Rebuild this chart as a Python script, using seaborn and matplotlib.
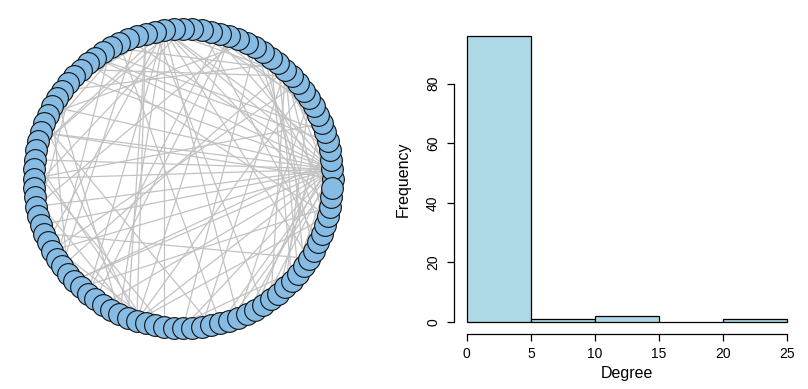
import numpy as np
import pandas as pd
import matplotlib
matplotlib.use("Agg")
import matplotlib.pyplot as plt
import seaborn as sns

# Network: 100 vertices on a circle, edges of a preferential-attachment style tree
n_nodes = 100

hub_edges = [
    (1, 8), (1, 13), (1, 22), (1, 27), (1, 31), (1, 35), (1, 38), (1, 42),
    (1, 45), (1, 48), (1, 50), (1, 53), (1, 55), (1, 58), (1, 62), (1, 66),
    (1, 70), (1, 75), (1, 79), (1, 84), (1, 88), (1, 93),
    (27, 3), (27, 12), (27, 40), (27, 47), (27, 57), (27, 64), (27, 68),
    (27, 73), (27, 81), (27, 91), (27, 97),
    (13, 5), (13, 18), (13, 25), (13, 33), (13, 60), (13, 77), (13, 85),
    (13, 90), (13, 95), (13, 99),
    (70, 10), (70, 20), (70, 29), (70, 44), (70, 52), (70, 96),
]

leaf_edges = [
    (45, 0), (62, 2), (35, 4), (50, 6), (22, 7), (81, 9), (58, 11), (40, 14),
    (88, 15), (3, 16), (75, 17), (53, 19), (64, 21), (93, 23), (8, 24),
    (47, 26), (84, 28), (60, 30), (79, 32), (5, 34), (96, 36), (12, 37),
    (45, 39), (68, 41), (18, 43), (31, 46), (73, 49), (25, 51), (38, 54),
    (91, 56), (33, 59), (42, 61), (97, 63), (20, 65), (55, 67), (29, 69),
    (48, 71), (57, 72), (90, 74), (66, 76), (44, 78), (0, 80), (2, 82),
    (4, 83), (6, 86), (9, 87), (14, 89), (16, 92), (17, 94), (19, 98),
]

degree_bins = [0, 5, 10, 15, 20, 25]

node_color = "#86bbe4"
edge_color = "#c2c2c2"
bar_color = "lightblue"

sns.set_style("white")
plt.rcParams["font.family"] = ["Liberation Sans", "DejaVu Sans"]
plt.rcParams["text.color"] = "black"
plt.rcParams["axes.labelcolor"] = "black"
plt.rcParams["xtick.color"] = "black"
plt.rcParams["ytick.color"] = "black"

edges = hub_edges + leaf_edges
degrees = np.bincount(np.array(edges).ravel(), minlength = n_nodes)
deg_df = pd.DataFrame({"Degree": degrees})

# circle layout, counter-clockwise from the right
angle = 2 * np.pi * np.arange(n_nodes) / n_nodes
node_x = np.cos(angle)
node_y = np.sin(angle)

fig = plt.figure(figsize = (8.08, 3.89), dpi = 100)

# left: network
ax_net = fig.add_axes([0, 0, 366 / 808, 1])
for s, t in edges:
    ax_net.plot([node_x[s], node_x[t]], [node_y[s], node_y[t]],
                color = edge_color, lw = 0.9, zorder = 1)
sns.scatterplot(x = node_x, y = node_y, s = 245, color = node_color,
                edgecolor = "#111111", linewidth = 0.8, ax = ax_net,
                zorder = 3, legend = False)
ax_net.set_xlim(-183 / 149.5, 183 / 149.5)
ax_net.set_ylim(-(389 - 178.5) / 149.5, 178.5 / 149.5)
ax_net.axis("off")

# right: degree histogram
ax_h = fig.add_axes([454 / 808, 55.5 / 389, 346 / 808, 309 / 389])
sns.histplot(data = deg_df, x = "Degree", bins = degree_bins, color = bar_color,
             edgecolor = "black", linewidth = 0.9, alpha = 1, ax = ax_h)
ax_h.set_xlim(-1, 26)
ax_h.set_ylim(-3.84, 99.84)
ax_h.set_xticks(degree_bins)
ax_h.set_yticks([0, 20, 40, 60, 80])
ax_h.spines["top"].set_visible(False)
ax_h.spines["right"].set_visible(False)
ax_h.spines["left"].set_bounds(0, 80)
ax_h.spines["bottom"].set_bounds(0, 25)
for side in ["left", "bottom"]:
    ax_h.spines[side].set_color("black")
    ax_h.spines[side].set_linewidth(0.9)
ax_h.tick_params(axis = "both", length = 5, width = 0.9, color = "black",
                 labelcolor = "black", labelsize = 10, pad = 5,
                 left = True, bottom = True)
plt.setp(ax_h.get_yticklabels(), rotation = 90, va = "center")
ax_h.set_xlabel("Degree", fontsize = 11.5)
ax_h.set_ylabel("Frequency", fontsize = 11.5)
ax_h.xaxis.set_label_coords(0.5, -0.105)
ax_h.yaxis.set_label_coords(-0.124, 0.5)

fig.savefig("out.png", dpi = 100)
